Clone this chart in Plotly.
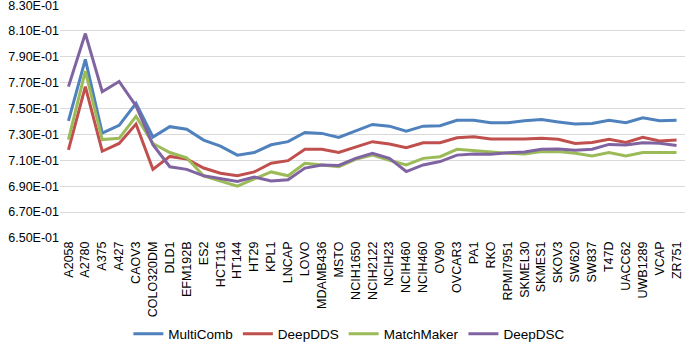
import plotly.graph_objects as go

cell_lines = ["A2058", "A2780", "A375", "A427", "CAOV3", "COLO320DM", "DLD1", "EFM192B",
              "ES2", "HCT116", "HT144", "HT29", "KPL1", "LNCAP", "LOVO", "MDAMB436", "MSTO",
              "NCIH1650", "NCIH2122", "NCIH23", "NCIH460", "NCIH460", "OV90", "OVCAR3", "PA1",
              "RKO", "RPMI7951", "SKMEL30", "SKMES1", "SKOV3", "SW620", "SW837", "T47D",
              "UACC62", "UWB1289", "VCAP", "ZR751"]

multicomb = [0.7405, 0.788, 0.731, 0.737, 0.754, 0.728, 0.736, 0.734, 0.7256, 0.721, 0.714,
             0.716, 0.722, 0.7244, 0.7315, 0.7308, 0.7277, 0.7326, 0.7377, 0.7364, 0.7326,
             0.7364, 0.7367, 0.741, 0.741, 0.739, 0.739, 0.7405, 0.7415, 0.7397, 0.738,
             0.7385, 0.741, 0.739, 0.7428, 0.7405, 0.741]
deepdds = [0.718, 0.767, 0.717, 0.723, 0.738, 0.703, 0.713, 0.711, 0.704, 0.700, 0.698,
           0.701, 0.7077, 0.7097, 0.7185, 0.7185, 0.716, 0.7205, 0.7244, 0.7226, 0.7197,
           0.7236, 0.7236, 0.7274, 0.7282, 0.7264, 0.7264, 0.7264, 0.727, 0.7262, 0.723,
           0.7238, 0.7262, 0.7238, 0.7277, 0.7249, 0.7256]
matchmaker = [0.726, 0.779, 0.726, 0.727, 0.744, 0.723, 0.716, 0.712, 0.698, 0.694, 0.690,
              0.6956, 0.701, 0.698, 0.7077, 0.7064, 0.705, 0.7108, 0.714, 0.710, 0.7064,
              0.7115, 0.7128, 0.7185, 0.7174, 0.716, 0.7154, 0.7149, 0.7167, 0.7167, 0.7154,
              0.7133, 0.716, 0.7133, 0.716, 0.716, 0.716]
deepdsc = [0.767, 0.808, 0.763, 0.771, 0.752, 0.722, 0.705, 0.703, 0.698, 0.6956, 0.6936,
           0.697, 0.694, 0.6949, 0.704, 0.7064, 0.706, 0.7115, 0.7154, 0.7115, 0.7013,
           0.7064, 0.709, 0.714, 0.7149, 0.7146, 0.7159, 0.7164, 0.7185, 0.7187, 0.7177,
           0.7185, 0.7223, 0.7218, 0.7236, 0.7231, 0.7215]

y_ticks = [0.65, 0.67, 0.69, 0.71, 0.73, 0.75, 0.77, 0.79, 0.81, 0.83]
y_tick_labels = ["6.50E-01", "6.70E-01", "6.90E-01", "7.10E-01", "7.30E-01", "7.50E-01",
                 "7.70E-01", "7.90E-01", "8.10E-01", "8.30E-01"]

series = [("MultiComb", multicomb, "#4F81BD"),
          ("DeepDDS", deepdds, "#C0504D"),
          ("MatchMaker", matchmaker, "#9BBB59"),
          ("DeepDSC", deepdsc, "#8064A2")]

x_idx = list(range(len(cell_lines)))

fig = go.Figure()
for name, vals, color in series:
    fig.add_trace(go.Scatter(x=x_idx, y=vals, mode="lines", name=name,
                             line=dict(color=color, width=3)))

font_family = "Liberation Sans, Arial, sans-serif"
fig.update_layout(
    width=685, height=346,
    margin=dict(l=60, r=0, t=5, b=108, autoexpand=False),
    paper_bgcolor="white", plot_bgcolor="white",
    font=dict(family=font_family, size=12, color="#000000"),
    showlegend=True,
    legend=dict(orientation="h", xref="container", yref="container",
                x=0.51, xanchor="center", y=0.035, yanchor="middle",
                font=dict(size=13.5), itemwidth=30, tracegroupgap=0),
    xaxis=dict(tickmode="array", tickvals=x_idx, ticktext=cell_lines,
               range=[-0.5, len(cell_lines) - 0.5], tickangle=-90, automargin=False,
               ticklabeloverflow="allow",
               showgrid=False, zeroline=False, showline=False, ticks="",
               tickfont=dict(size=12.5)),
    yaxis=dict(tickmode="array", tickvals=y_ticks, ticktext=y_tick_labels,
               range=[0.6499, 0.8301], showgrid=True, gridcolor="#D9D9D9", gridwidth=1,
               automargin=False, ticklabeloverflow="allow",
               zeroline=False, showline=False, ticks="", tickfont=dict(size=12.5)),
)

fig.write_html("out.html", config={"displayModeBar": False},
               post_script="document.body.style.margin='0';document.body.style.overflow='hidden';")
